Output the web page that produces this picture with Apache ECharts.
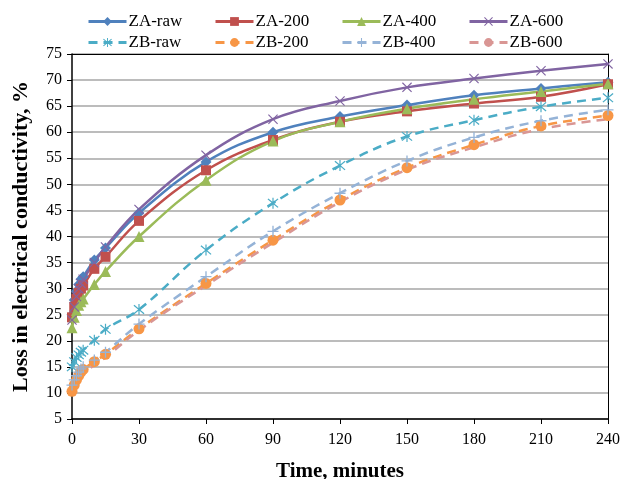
<!DOCTYPE html>
<html>
<head>
<meta charset="utf-8">
<script src="https://cdn.jsdelivr.net/npm/echarts@6/dist/echarts.min.js"></script>
<style>
  html, body { margin: 0; padding: 0; background: #fff; }
  #chart { width: 624px; height: 479px; }
</style>
</head>
<body>
<div id="chart"></div>
<script>
// Sampling times (minutes)
const times = [0, 1, 2, 3, 4, 5, 10, 15, 30, 60, 90, 120, 150, 180, 210, 240];

// Loss in electrical conductivity (%)
const zaRaw = [25.0, 27.8, 29.5, 30.8, 31.8, 32.3, 35.5, 37.8, 44.5, 54.3, 60.0, 63.0, 65.2, 67.1, 68.4, 69.6];
const za200 = [24.5, 26.5, 28.0, 29.2, 30.0, 30.6, 33.8, 36.1, 43.0, 52.7, 58.5, 62.0, 64.0, 65.5, 66.8, 69.2];
const za400 = [22.5, 24.5, 25.8, 26.8, 27.5, 28.0, 30.8, 33.3, 40.0, 50.8, 58.3, 62.0, 64.5, 66.3, 67.8, 69.3];
const za600 = [24.0, 26.5, 28.5, 30.0, 31.0, 31.8, 35.0, 38.0, 45.2, 55.6, 62.5, 66.0, 68.6, 70.3, 71.8, 73.1];
const zbRaw = [15.0, 16.0, 16.8, 17.3, 17.8, 18.2, 20.1, 22.2, 26.0, 37.4, 46.4, 53.6, 59.2, 62.3, 64.9, 66.6];
const zb200 = [10.3, 11.5, 12.5, 13.3, 14.0, 14.5, 16.0, 17.4, 22.3, 31.0, 39.3, 47.0, 53.2, 57.6, 61.2, 63.2];
const zb400 = [11.5, 12.5, 13.3, 14.0, 14.6, 15.0, 16.3, 17.8, 23.2, 32.3, 41.0, 48.3, 54.5, 59.0, 62.2, 64.3];
const zb600 = [10.5, 11.2, 12.0, 12.7, 13.3, 13.8, 15.3, 16.8, 22.0, 30.6, 38.8, 46.6, 52.8, 57.1, 60.6, 62.5];

const seriesNames = ['ZA-raw', 'ZA-200', 'ZA-400', 'ZA-600', 'ZB-raw', 'ZB-200', 'ZB-400', 'ZB-600'];
const seriesValues = [zaRaw, za200, za400, za600, zbRaw, zb200, zb400, zb600];

// Tick settings
const xMin = 0, xMax = 240, xStep = 30;
const yMin = 5, yMax = 75, yStep = 5;

// Marker shapes
const X_PATH = 'path://M0,0.8 L0.8,0 L5,4.2 L9.2,0 L10,0.8 L5.8,5 L10,9.2 L9.2,10 L5,5.8 L0.8,10 L0,9.2 L4.2,5 Z';
const STAR_PATH = 'path://M0,1.5 L0.8,0.7 L5,4.3 L9.2,0.7 L10,1.5 L5.8,5 L10,8.5 L9.2,9.3 L5,5.7 L0.8,9.3 L0,8.5 L4.2,5 Z M4.45,0 L5.55,0 L5.55,10 L4.45,10 Z';
const PLUS_PATH = 'path://M4.4,0 L5.6,0 L5.6,4.4 L10,4.4 L10,5.6 L5.6,5.6 L5.6,10 L4.4,10 L4.4,5.6 L0,5.6 L0,4.4 L4.4,4.4 Z';

const styles = [
  { color: '#4F81BD', symbol: 'diamond', size: 11, dashed: false },
  { color: '#C0504D', symbol: 'rect', size: 10, dashed: false },
  { color: '#9BBB59', symbol: 'triangle', size: 11, dashed: false },
  { color: '#8064A2', symbol: X_PATH, size: 10, dashed: false },
  { color: '#4BACC6', symbol: STAR_PATH, size: 11, dashed: true },
  { color: '#F79646', symbol: 'circle', size: 11, dashed: true },
  { color: '#95B3D7', symbol: PLUS_PATH, size: 11, dashed: true },
  { color: '#D99694', symbol: 'none', size: 0, dashed: true }
];

const serif = 'Liberation Serif, Times New Roman, serif';

const series = seriesNames.map((name, i) => ({
  name: name,
  type: 'line',
  smooth: 0.4,
  xAxisIndex: 0,
  yAxisIndex: 0,
  data: times.map((t, k) => [t, seriesValues[i][k]]),
  symbol: styles[i].symbol,
  symbolSize: styles[i].size,
  showSymbol: styles[i].symbol !== 'none',
  itemStyle: { color: styles[i].color },
  lineStyle: {
    color: styles[i].color,
    width: 2.5,
    type: styles[i].dashed ? [9, 6] : 'solid'
  },
  emphasis: { disabled: true },
  animation: false
}));

// One legend entry per slot: 4 columns, 2 rows
const legends = seriesNames.map((name, i) => ({
  data: [name],
  left: 82 + (i % 4) * 127,
  top: i < 4 ? 8 : 29,
  itemWidth: 38,
  itemHeight: 11,
  itemGap: 0,
  lineStyle: { width: 3 },
  textStyle: { fontFamily: serif, fontSize: 17, color: '#000', padding: [0, 0, 0, -3] },
  selectedMode: false
}));

const chart = echarts.init(document.getElementById('chart'), null, { renderer: 'canvas' });
chart.setOption({
  backgroundColor: '#fff',
  animation: false,
  legend: legends,
  grid: { left: 72, right: 16, top: 54, bottom: 60, containLabel: false, outerBoundsMode: 'none' },
  xAxis: [{
    type: 'value', min: xMin, max: xMax, interval: xStep,
    name: 'Time, minutes', nameLocation: 'middle', nameGap: 42,
    nameTextStyle: { fontFamily: serif, fontSize: 21, fontWeight: 'bold', color: '#000' },
    axisLine: { show: true, onZero: false, lineStyle: { color: '#000', width: 1.5 } },
    axisTick: { show: true, length: 5, lineStyle: { color: '#000' } },
    axisLabel: { fontFamily: serif, fontSize: 16, color: '#000', margin: 13 },
    splitLine: { show: false }
  }, {
    type: 'value', min: xMin, max: xMax, position: 'top',
    axisLine: { show: true, onZero: false, lineStyle: { color: '#000', width: 1 } },
    axisTick: { show: false }, axisLabel: { show: false }, splitLine: { show: false }
  }],
  yAxis: [{
    type: 'value', min: yMin, max: yMax, interval: yStep,
    name: 'Loss in electrical conductivity, %', nameLocation: 'middle', nameGap: 40, nameRotate: 90,
    nameTextStyle: { fontFamily: serif, fontSize: 22, fontWeight: 'bold', color: '#000' },
    axisLine: { show: true, onZero: false, lineStyle: { color: '#000', width: 1.5 } },
    axisTick: { show: true, length: 5, lineStyle: { color: '#000' } },
    axisLabel: { fontFamily: serif, fontSize: 16, color: '#000', margin: 10 },
    splitLine: { show: true, lineStyle: { color: '#A6A6A6', width: 1.5 } }
  }, {
    type: 'value', min: yMin, max: yMax, position: 'right',
    axisLine: { show: true, onZero: false, lineStyle: { color: '#000', width: 1 } },
    axisTick: { show: false }, axisLabel: { show: false }, splitLine: { show: false }
  }],
  series: series
});
</script>
</body>
</html>
